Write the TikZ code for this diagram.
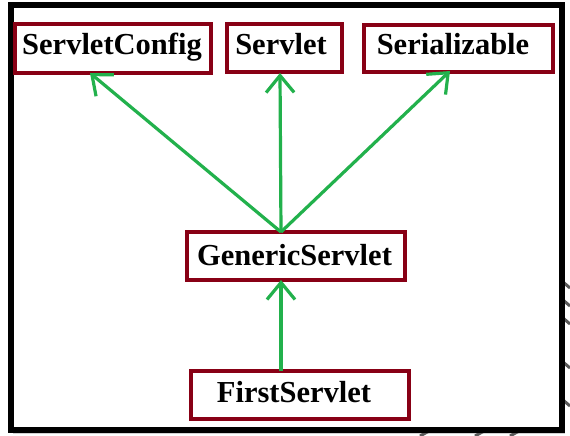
\documentclass[tikz,border=0pt]{standalone}
\usepackage{fontspec}
\setmainfont{Liberation Serif}
\usetikzlibrary{arrows.meta}
\definecolor{boxred}{HTML}{880015}
\definecolor{arrgreen}{HTML}{22B14C}
\begin{document}
\begin{tikzpicture}[x=1pt,y=-1pt,
  cls/.style={draw=boxred,line width=3.2pt,fill=white,inner sep=0pt},
  lbl/.style={anchor=base,inner sep=0pt,font=\fontsize{30.5}{36}\selectfont\bfseries},
  inh/.style={draw=arrgreen,line width=3.2pt,-{Straight Barb[length=17pt,width=28pt,line width=3.2pt]}},
  stripe/.style={draw=black!65,line width=3pt}]
\useasboundingbox (0,0) rectangle (570,436);
% shadow
\fill[gray!35] (13,8) rectangle (565,434);
\foreach \y in {282,300,318,362,400}{
  \draw[stripe] (570,{\y+6}) -- (563,\y);
}
\foreach \x in {420,475,510}{
  \draw[stripe] (\x,436) -- ({\x+9},431);
}
\fill[white] (11,5.5) rectangle (561.5,429.5);
\draw[line width=6pt] (11,5.5) rectangle (561.5,429.5);
% boxes
\node[cls,minimum width=196pt,minimum height=49pt] (sc) at (113,48.5) {};
\node[cls,minimum width=115pt,minimum height=48pt] (sv) at (284.5,48) {};
\node[cls,minimum width=189pt,minimum height=47pt] (sz) at (458.5,48.5) {};
\node[cls,minimum width=218pt,minimum height=48pt] (gs) at (296,256) {};
\node[cls,minimum width=218pt,minimum height=48pt] (fs) at (300,395) {};
% labels
\node[lbl] (tsc) at (112,55) {ServletConfig};
\node[lbl] (tsv) at (281,55) {Servlet};
\node[lbl] (tsz) at (453,55) {Serializable};
\node[lbl] (tgs) at (294.5,265) {GenericServlet};
\node[lbl] (tfs) at (294,402) {FirstServlet};
% connector points
\coordinate (gtop) at (281,232);
\coordinate (gbot) at (281,280);
\coordinate (ftop) at (281,371);
\coordinate (scb) at (90,73);
\coordinate (svb) at (280,73);
\coordinate (szb) at (450,71);
% arrows
\draw[inh] (gtop) -- (scb);
\draw[inh] (gtop) -- (svb);
\draw[inh] (gtop) -- (szb);
\draw[inh] (ftop) -- (gbot);
\end{tikzpicture}
\end{document}
